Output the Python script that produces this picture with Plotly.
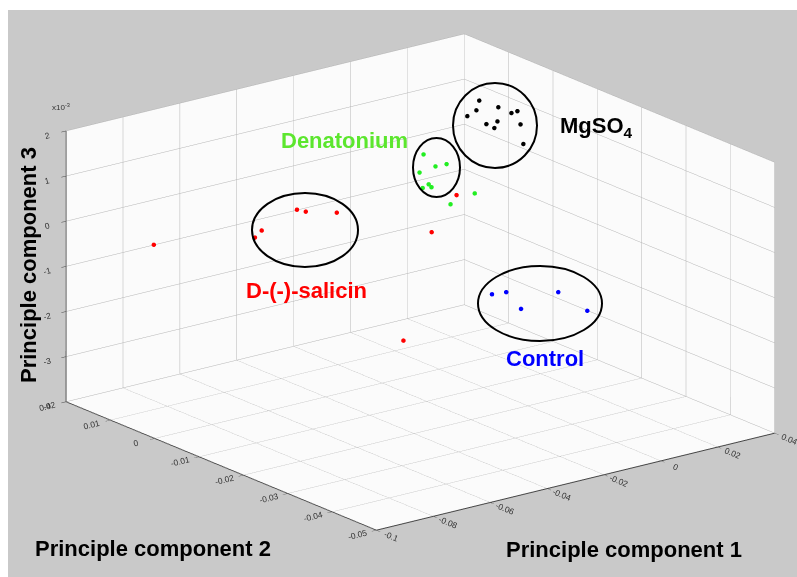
import plotly.graph_objects as go

# ---- data (PC3 in units of 1e-3) ----
mgso4_pc1 = [0.0125, 0.0192, 0.0259, 0.0115, 0.0083, 0.0238, 0.0189, 0.0150, 0.0178, 0.0270, 0.0280]
mgso4_pc2 = [-0.001] * 11
mgso4_pc3 = [1.80, 1.55, 1.36, 1.60, 1.52, 1.35, 1.24, 1.24, 1.11, 1.05, 0.60]

den_pc1 = [-0.0180, -0.0138, -0.0099, -0.0194, -0.0162, -0.0152, -0.0183, 0.0000, -0.0085]
den_pc2 = [-0.008] * 9
den_pc3 = [1.36, 1.03, 1.02, 0.98, 0.67, 0.59, 0.62, 0.22, 0.11]

ctrl_pc1 = [-0.0103, -0.0053, -0.0001, 0.0130, 0.0232]
ctrl_pc2 = [-0.0185] * 5
ctrl_pc3 = [-1.43, -1.46, -1.91, -1.74, -2.31]

sal_pc1 = [-0.0882, -0.0858, -0.0734, -0.0703, -0.0594, -0.0910, -0.0206, -0.0064, -0.0578]
sal_pc2 = [-0.015, -0.015, -0.015, -0.015, -0.015, 0.006, -0.0115, -0.008, -0.029]
sal_pc3 = [0.88, 1.00, 1.27, 1.18, 0.99, -0.09, -0.18, 0.28, -1.30]

pc1_ticks = [-0.1, -0.08, -0.06, -0.04, -0.02, 0, 0.02, 0.04]
pc2_ticks = [-0.05, -0.04, -0.03, -0.02, -0.01, 0, 0.01, 0.02]
pc3_ticks = [-4, -3, -2, -1, 0, 1, 2]

W, H = 797, 577

def px(x):
    return x / W

def py(y):
    return 1 - y / H

fig = go.Figure()
for xs, ys, zs, col in [
    (sal_pc1, sal_pc2, sal_pc3, "#ff0000"),
    (den_pc1, den_pc2, den_pc3, "#22ee22"),
    (mgso4_pc1, mgso4_pc2, mgso4_pc3, "#000000"),
    (ctrl_pc1, ctrl_pc2, ctrl_pc3, "#0000ff"),
]:
    fig.add_trace(go.Scatter3d(x=xs, y=ys, z=zs, mode="markers",
                               marker=dict(size=2.6, color=col, line=dict(width=0)),
                               hoverinfo="skip", showlegend=False))

axis_common = dict(showbackground=True, backgroundcolor="#fbfbfb",
                   gridcolor="#b4b4b4", gridwidth=1, showline=True,
                   linecolor="#444444", linewidth=2, ticks="outside",
                   ticklen=6, tickcolor="#444444",
                   tickfont=dict(family="Arial", size=10, color="#333333"),
                   zeroline=False, showspikes=False, title=dict(text=""))

fig.update_layout(
    width=W, height=H, margin=dict(l=0, r=0, t=0, b=0),
    paper_bgcolor="#c9c9c9",
    scene=dict(
        domain=dict(x=[0, 1], y=[0, 1]),
        bgcolor="rgba(0,0,0,0)",
        xaxis=dict(axis_common, range=[-0.1, 0.04], tickvals=pc1_ticks,
                   ticktext=[str(t) for t in pc1_ticks]),
        yaxis=dict(axis_common, range=[-0.05, 0.02], tickvals=pc2_ticks,
                   ticktext=[str(t) for t in pc2_ticks]),
        zaxis=dict(axis_common, range=[-4, 2], tickvals=pc3_ticks,
                   ticktext=[str(t) for t in pc3_ticks]),
        aspectmode="manual", aspectratio=dict(x=1.74, y=1.767, z=0.99),
        camera=dict(eye=dict(x=-1.7964, y=-2.2164, z=0.9313),
                    up=dict(x=0, y=0, z=1),
                    center=dict(x=-0.06452, y=0.04054, z=-0.02125),
                    projection=dict(type="orthographic")),
    ),
)

bold = dict(family="Arial", size=22)
ann = [
    ("Denatonium", 344, 141, "#5ce62e", 0),
    ("D-(-)-salicin", 306, 290, "#ff0000", 0),
    ("Control", 545, 358, "#0000ff", 0),
    ("MgSO<sub>4</sub>", 596, 127, "#000000", 0),
    ("Principle component 2", 153, 548, "#000000", 0),
    ("Principle component 1", 624, 549, "#000000", 0),
    ("Principle component 3", 28, 265, "#000000", -90),
]
for text, x, y, col, ang in ann:
    fig.add_annotation(text="<b>" + text + "</b>", x=px(x), y=py(y), xref="paper", yref="paper",
                       showarrow=False, font=dict(bold, color=col), textangle=ang,
                       xanchor="center", yanchor="middle")
fig.add_annotation(text="x10<sup>-3</sup>", x=px(50), y=py(100), xref="paper", yref="paper",
                   showarrow=False, font=dict(family="Arial", size=8, color="#333333"))

# white strips at the image border
fig.add_shape(type="rect", xref="paper", yref="paper", x0=0, x1=px(8), y0=0, y1=1,
              fillcolor="white", line=dict(width=0), layer="below")
fig.add_shape(type="rect", xref="paper", yref="paper", x0=0, x1=1, y0=py(10), y1=1,
              fillcolor="white", line=dict(width=0), layer="below")

# cluster ellipses (drawn above the 3D scene)
for x0, x1, y0, y1 in [(252, 358, 193, 267), (413, 460, 138, 197),
                       (453, 537, 83, 168), (478, 602, 266, 341)]:
    fig.add_shape(type="circle", xref="paper", yref="paper",
                  x0=px(x0), x1=px(x1), y0=py(y1), y1=py(y0),
                  line=dict(color="black", width=2), layer="above")

post = """
document.body.style.margin = '0';
document.body.style.overflow = 'hidden';
var gd = document.getElementById('{plot_id}');
var above = gd.querySelector('.main-svg .layer-above');
var tops = gd.querySelectorAll('.main-svg');
var top = tops[tops.length - 1];
if (above && top) { top.insertBefore(above, top.firstChild); }
"""
fig.write_html("out.html", post_script=post, config={"displayModeBar": False})
